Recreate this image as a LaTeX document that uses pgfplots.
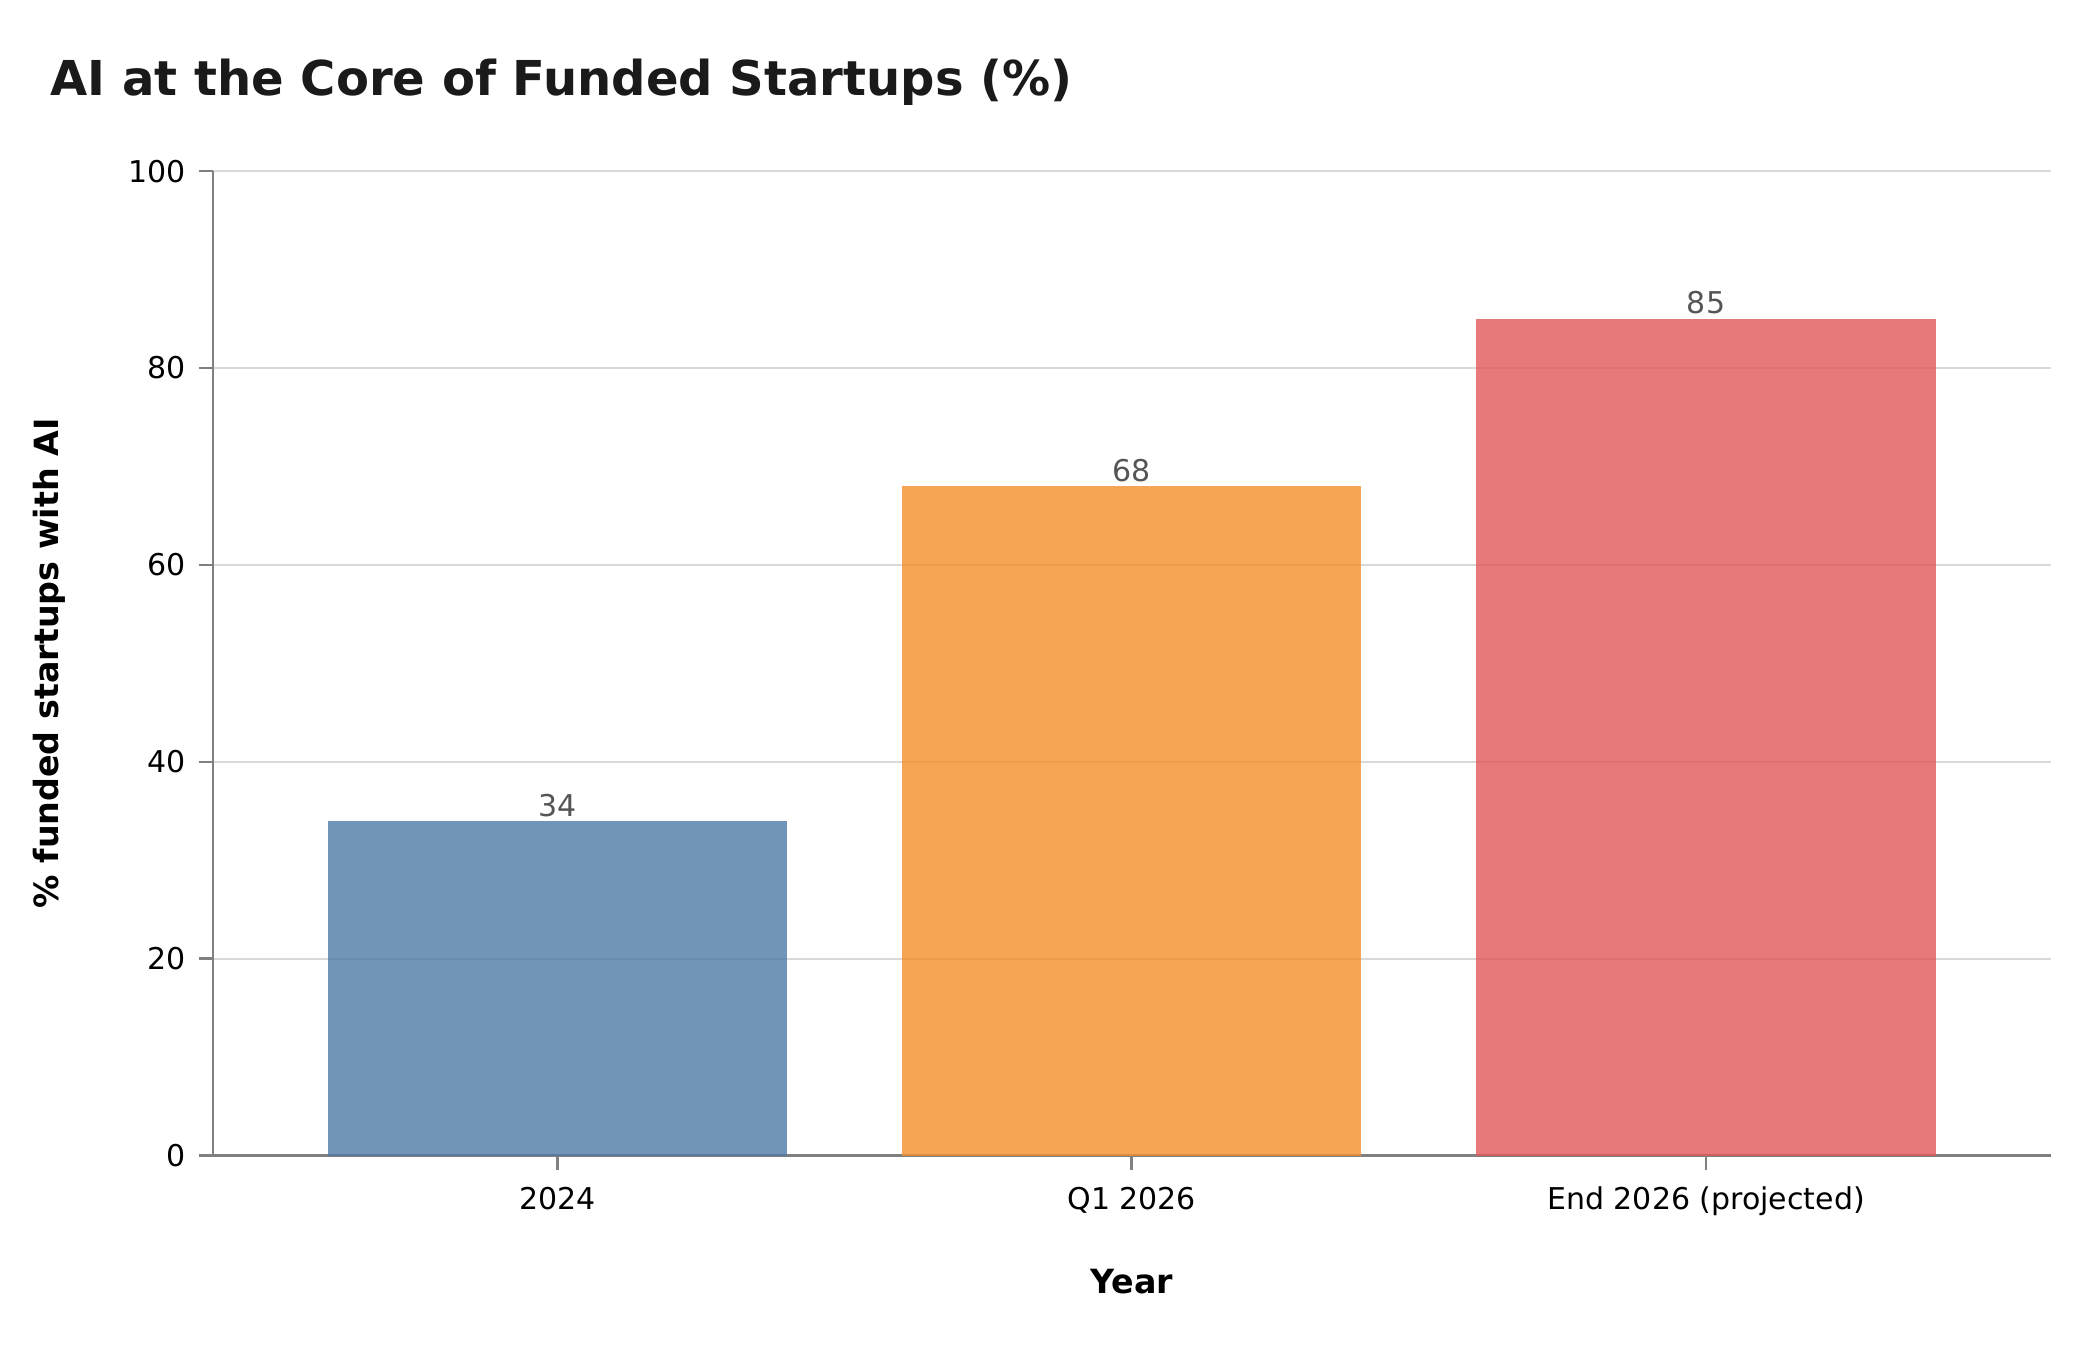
\documentclass[border=0pt]{standalone}
\usepackage{fontspec}
\setmainfont{DejaVu Sans}
\usepackage{pgfplots}
\pgfplotsset{compat=1.18}

\definecolor{barblue}{HTML}{4E79A7}
\definecolor{barorange}{HTML}{F28E2B}
\definecolor{barred}{HTML}{E15759}
\definecolor{spinegray}{HTML}{808080}
\definecolor{gridgray}{HTML}{D9D9D9}
\definecolor{valgray}{HTML}{555555}
\definecolor{titleblack}{HTML}{1A1A1A}

\begin{document}
\begin{tikzpicture}
\useasboundingbox (0,0) rectangle (756pt,486pt);
\begin{axis}[
    at={(76.7pt,69.9pt)}, anchor=south west,
    scale only axis, width=661.5pt, height=354.5pt,
    xmin=-0.6, xmax=2.6, ymin=0, ymax=100,
    axis x line*=bottom, axis y line*=left,
    axis line style={spinegray, line width=1pt},
    xtick={0,1,2},
    xticklabels={2024, Q1 2026, End 2026 (projected)},
    ytick={0,20,40,60,80,100},
    tick align=outside, major tick length=5.2pt,
    tick style={spinegray, line width=1pt},
    ymajorgrids, major grid style={gridgray, line width=0.7pt},
    /pgf/number format/assume math mode=true,
    tick label style={font=\fontsize{10.8}{13}\selectfont, text=black},
    xticklabel style={inner sep=0pt, anchor=base, yshift=-14.3pt},
    yticklabel style={inner sep=0pt, anchor=east, xshift=-4.6pt},
    ybar, bar width=0.8, bar shift=0pt,
    nodes near coords,
    every node near coord/.append style={font=\fontsize{10.8}{13}\selectfont,
        text=valgray, anchor=base, inner sep=0pt, yshift=1.8pt},
    clip=false,
]
\addplot[draw=none, fill=barblue, fill opacity=0.8, text opacity=1] coordinates {(0,34)};
\addplot[draw=none, fill=barorange, fill opacity=0.8, text opacity=1] coordinates {(1,68)};
\addplot[draw=none, fill=barred, fill opacity=0.8, text opacity=1] coordinates {(2,85)};
\end{axis}
\node[anchor=base west, inner sep=0pt, text=titleblack,
      font=\bfseries\fontsize{17.3}{20}\selectfont] at (18pt,451.6pt)
      {AI at the Core of Funded Startups (\%)};
\node[anchor=base, inner sep=0pt, font=\bfseries\fontsize{12}{14}\selectfont]
      at (407.5pt,20.5pt) {Year};
\node[rotate=90, anchor=center, inner sep=0pt, font=\bfseries\fontsize{12}{14}\selectfont]
      at (17.6pt,247.2pt) {\% funded startups with AI};
\end{tikzpicture}
\end{document}
